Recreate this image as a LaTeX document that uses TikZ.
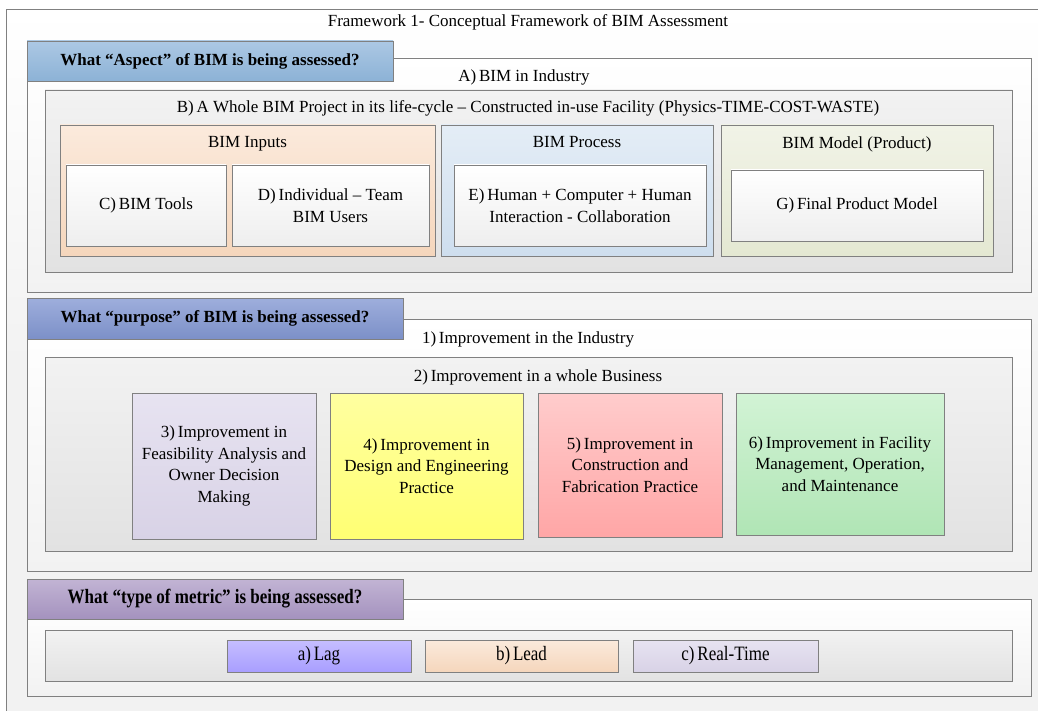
\documentclass[tikz,border=0pt]{standalone}
\usepackage{fontspec}
\setmainfont{Liberation Serif}
\usepackage{graphicx}
\usetikzlibrary{positioning}

\definecolor{edge}{RGB}{128,128,128}
\definecolor{bgfill}{RGB}{242,242,242}
\definecolor{hdaspT}{RGB}{172,200,228}
\definecolor{hdaspB}{RGB}{140,178,214}
\definecolor{hdpurT}{RGB}{158,174,220}
\definecolor{hdpurB}{RGB}{124,144,200}
\definecolor{hdmetT}{RGB}{194,180,212}
\definecolor{hdmetB}{RGB}{164,146,190}
\definecolor{inpT}{RGB}{251,234,220}
\definecolor{inpB}{RGB}{245,214,188}
\definecolor{proT}{RGB}{228,237,246}
\definecolor{proB}{RGB}{206,222,238}
\definecolor{modT}{RGB}{241,243,231}
\definecolor{modB}{RGB}{228,232,210}
\definecolor{lavT}{RGB}{231,227,241}
\definecolor{lavB}{RGB}{216,210,230}
\definecolor{yelT}{RGB}{255,255,160}
\definecolor{yelB}{RGB}{255,255,115}
\definecolor{redT}{RGB}{255,204,204}
\definecolor{redB}{RGB}{255,166,166}
\definecolor{grnT}{RGB}{210,243,213}
\definecolor{grnB}{RGB}{176,229,181}
\definecolor{lagT}{RGB}{198,190,255}
\definecolor{lagB}{RGB}{168,158,255}

\begin{document}
\begin{tikzpicture}[x=1pt,y=-1pt,
    txt/.style={font=\fontsize{17}{21.5}\selectfont,align=center,inner sep=0pt},
    hdtxt/.style={font=\fontsize{17}{20}\selectfont\bfseries},
    box/.style={rectangle,draw=edge,line width=0.8pt,inner sep=0pt,
                txt},
    outerpanel/.style={box,top color=white,bottom color=bgfill},
    innerpanel/.style={box,top color=bgfill,bottom color={rgb,255:red,226;green,226;blue,226}},
    whitebox/.style={box,top color=white,bottom color={rgb,255:red,238;green,238;blue,238}},
    header/.style={box,hdtxt}]

  \useasboundingbox (0,0) rectangle (1038,711);
  \fill[white] (0,0) rectangle (1038,711);
  \draw[edge,line width=0.8pt,top color=white,bottom color=bgfill,middle color=bgfill] (6,9) rectangle (1045,720);

  \node[txt] (title) at (528,22) {Framework 1- Conceptual Framework of BIM Assessment};

  % aspect
  \node[outerpanel,minimum width=1004,minimum height=234] (A) at (529,175) {};
  \node[header,top color=hdaspT,bottom color=hdaspB,minimum width=366,minimum height=40]
        (hdA) at (210,61) {What “Aspect” of BIM is being assessed?};
  \node[txt] (Alab) at (524,77) {A)\,BIM in Industry};
  \node[innerpanel,minimum width=967,minimum height=182] (B) at (528.5,181) {};
  \node[txt] (Blab) at (528,108) {B)\,A Whole BIM Project in its life-cycle -- Constructed in-use Facility (Physics-TIME-COST-WASTE)};

  \node[box,top color=inpT,bottom color=inpB,minimum width=375,minimum height=131] (inp) at (247.5,190.5) {};
  \node[box,top color=proT,bottom color=proB,minimum width=272,minimum height=131] (pro) at (577,190.5) {};
  \node[box,top color=modT,bottom color=modB,minimum width=272,minimum height=131] (mod) at (857,190.5) {};
  \node[txt,below=12pt of inp.north] (inplab) {BIM Inputs};
  \node[txt,below=12pt of pro.north] (prolab) {BIM Process};
  \node[txt,below=12pt of mod.north] (modlab) {BIM Model (Product)};

  \node[whitebox,minimum width=160,minimum height=81] (C) at (146,205.5) {C)\,BIM Tools};
  \node[whitebox,minimum width=197,minimum height=81] (D) at (330.5,205.5) {D)\,Individual -- Team\\BIM Users};
  \node[whitebox,minimum width=252,minimum height=81] (E) at (580,205.5) {E)\,Human + Computer + Human\\Interaction - Collaboration};
  \node[whitebox,minimum width=252,minimum height=71] (G) at (857,205.5) {G)\,Final Product Model};

  % purpose
  \node[outerpanel,minimum width=1004,minimum height=252] (P1) at (529,445) {};
  \node[header,top color=hdpurT,bottom color=hdpurB,minimum width=376,minimum height=41]
        (hdP) at (215,318.5) {What “purpose” of BIM is being assessed?};
  \node[txt] (P1lab) at (528,339) {1)\,Improvement in the Industry};
  \node[innerpanel,minimum width=967,minimum height=194] (P2) at (528.5,454) {};
  \node[txt] (P2lab) at (538,377) {2)\,Improvement in a whole Business};

  \node[box,top color=lavT,bottom color=lavB,minimum width=184,minimum height=146] (P3) at (224,466)
        {3)\,Improvement in\\Feasibility Analysis and\\Owner Decision\\Making};
  \node[box,top color=yelT,bottom color=yelB,minimum width=193,minimum height=146] (P4) at (426.5,466)
        {4)\,Improvement in\\Design and Engineering\\Practice};
  \node[box,top color=redT,bottom color=redB,minimum width=184,minimum height=144] (P5) at (630,465)
        {5)\,Improvement in\\Construction and\\Fabrication Practice};
  \node[box,top color=grnT,bottom color=grnB,minimum width=208,minimum height=142] (P6) at (840,464)
        {6)\,Improvement in Facility\\Management, Operation,\\and Maintenance};

  % metric
  \node[outerpanel,minimum width=1004,minimum height=97] (M) at (529,647.5) {};
  \node[header,top color=hdmetT,bottom color=hdmetB,minimum width=376,minimum height=40]
        (hdM) at (215,599) {\scalebox{1}[1.2]{What “type of metric” is being assessed?}};
  \node[innerpanel,minimum width=967,minimum height=51] (Mi) at (528.5,655.5) {};
  \node[box,top color=lagT,bottom color=lagB,minimum width=184,minimum height=32] (lag) at (319,656)
        {\scalebox{1}[1.2]{a)\,Lag}};
  \node[box,top color=inpT,bottom color=inpB,minimum width=193,minimum height=32] (lead) at (521.5,656)
        {\scalebox{1}[1.2]{b)\,Lead}};
  \node[box,top color=lavT,bottom color=lavB,minimum width=185,minimum height=32] (rt) at (725.5,656)
        {\scalebox{1}[1.2]{c)\,Real-Time}};
\end{tikzpicture}
\end{document}
